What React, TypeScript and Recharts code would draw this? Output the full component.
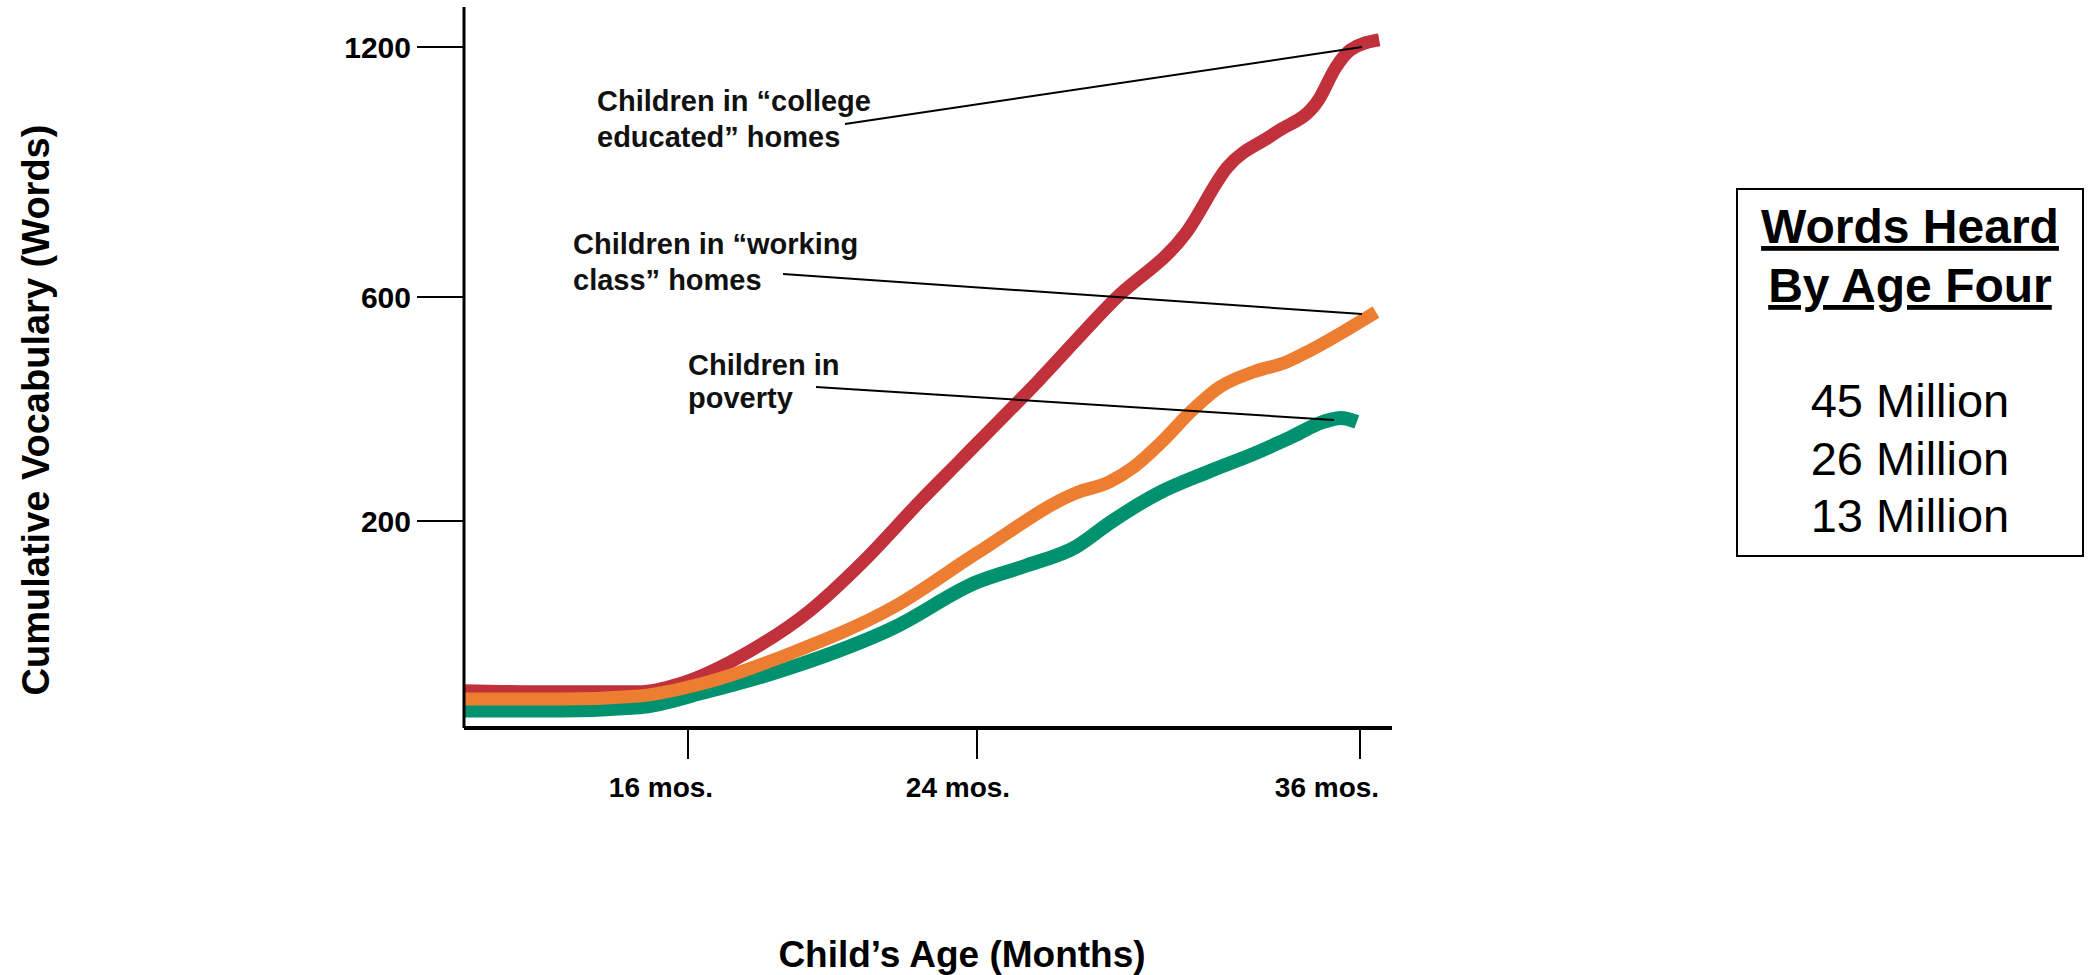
import { LineChart, Line, XAxis, YAxis } from "recharts";

const FONT = '"Liberation Sans", Arial, Helvetica, sans-serif';

// tick labels printed on the axes
const AGE_TICKS = [16, 24, 36];
const VOCAB_TICKS = [200, 600, 1200];

// Children in "college educated" homes
const COLLEGE_AGE = [10, 11.9, 14.7, 15.8, 17.7, 19.4, 20.8, 22.45, 23.55, 25.95, 28.3, 30.55, 31.85, 33.35, 34.7, 35.25, 35.7, 36.6];
const COLLEGE_WORDS = [36, 35, 35, 43, 74, 114, 159, 237, 309, 452, 595, 754, 912, 994, 1073, 1152, 1193, 1217];

// Children in "working class" homes
const WORKING_AGE = [10, 12.6, 14.7, 16.4, 18.9, 21.7, 24, 27.1, 28.15, 28.9, 29.75, 30.75, 31.6, 32.65, 33.7, 34.45, 35.45, 36.5];
const WORKING_WORDS = [28, 28, 31, 43, 73, 117, 169, 250, 270, 296, 339, 398, 439, 466, 484, 505, 537, 573];

// Children in poverty
const POVERTY_AGE = [10, 12.6, 14.7, 16.4, 18.9, 21.7, 24, 25.55, 27.1, 28.15, 29.7, 31.25, 32.8, 33.85, 34.85, 35.4, 35.9];
const POVERTY_WORDS = [17, 17, 20, 34, 59, 97, 141, 157, 175, 198, 250, 288, 323, 350, 377, 384, 377];

const BOX_TITLE = ["Words Heard", "By Age Four"];
const BOX_LINES = ["45 Million", "26 Million", "13 Million"];

// the printed axes are not evenly spaced, so values go through the breakpoints they show
const AGE_STOPS = [10, 16, 24, 36, 37];
const AGE_POS = [0, 224, 513, 896, 928];
const VOCAB_STOPS = [0, 200, 600, 1200];
const VOCAB_POS = [0, 207, 431, 681];

// month labels sit a little left of their tick marks
const AGE_LABEL_SHIFT = [-27, -19, -33];

function piecewise(v: number, from: number[], to: number[]) {
  let i = 0;
  while (i < from.length - 2 && v > from[i + 1]) i++;
  const t = (v - from[i]) / (from[i + 1] - from[i]);
  return to[i] + t * (to[i + 1] - to[i]);
}
const ageToX = (m: number) => piecewise(m, AGE_STOPS, AGE_POS);
const vocabToY = (w: number) => piecewise(w, VOCAB_STOPS, VOCAB_POS);

const toSeries = (ages: number[], words: number[]) =>
  ages.map((a, i) => ({ x: ageToX(a), y: vocabToY(words[i]) }));

const collegeData = toSeries(COLLEGE_AGE, COLLEGE_WORDS);
const workingData = toSeries(WORKING_AGE, WORKING_WORDS);
const povertyData = toSeries(POVERTY_AGE, POVERTY_WORDS);

const AgeTick = (props: any) => {
  const { x, y, index } = props;
  return (
    <text
      x={x + AGE_LABEL_SHIFT[index]}
      y={y}
      dy="0.72em"
      textAnchor="middle"
      fontFamily={FONT}
      fontSize={28}
      fontWeight={700}
      fill="#000"
    >
      {`${AGE_TICKS[index]} mos.`}
    </text>
  );
};

export default function App() {
  const ann = { fontFamily: FONT, fontSize: 29, fontWeight: 700, fill: "#111" };
  return (
    <div style={{ position: "absolute", left: 0, top: 0, width: 2095, height: 975, background: "#fff" }}>
      <LineChart
        width={2095}
        height={975}
        margin={{ top: 7, right: 703, bottom: 187, left: 344 }}
      >
        <XAxis
          type="number"
          dataKey="x"
          domain={[0, 928]}
          ticks={AGE_TICKS.map(ageToX)}
          interval={0}
          height={60}
          tickSize={31}
          tickMargin={18}
          axisLine={{ stroke: "#000", strokeWidth: 4 }}
          tickLine={{ stroke: "#000", strokeWidth: 2 }}
          tick={<AgeTick />}
        />
        <YAxis
          type="number"
          dataKey="y"
          domain={[0, 721]}
          ticks={VOCAB_TICKS.map(vocabToY)}
          interval={0}
          width={120}
          tickSize={47}
          tickMargin={6}
          axisLine={{ stroke: "#000", strokeWidth: 3 }}
          tickLine={{ stroke: "#000", strokeWidth: 2 }}
          tick={{ fill: "#000", fontSize: 30, fontWeight: 700, fontFamily: FONT }}
          tickFormatter={(_v: number, i: number) => String(VOCAB_TICKS[i])}
        />
        <Line data={collegeData} dataKey="y" type="monotone" stroke="#C0313B" strokeWidth={13} dot={false} isAnimationActive={false} />
        <Line data={povertyData} dataKey="y" type="monotone" stroke="#00926E" strokeWidth={14} dot={false} isAnimationActive={false} />
        <Line data={workingData} dataKey="y" type="monotone" stroke="#ED7D31" strokeWidth={13} dot={false} isAnimationActive={false} />
      </LineChart>

      <svg
        width={2095}
        height={975}
        style={{ position: "absolute", left: 0, top: 0, pointerEvents: "none" }}
      >
        {/* axis titles */}
        <text
          x={36}
          y={410}
          transform="rotate(-90 36 410)"
          textAnchor="middle"
          dominantBaseline="central"
          fontFamily={FONT}
          fontSize={38}
          fontWeight={700}
        >
          Cumulative Vocabulary (Words)
        </text>
        <text x={962} y={967} textAnchor="middle" fontFamily={FONT} fontSize={37} fontWeight={700}>
          Child’s Age (Months)
        </text>

        {/* leader lines and labels */}
        <line x1={845} y1={124} x2={1362} y2={47} stroke="#000" strokeWidth={2} />
        <line x1={783} y1={274} x2={1362} y2={314} stroke="#000" strokeWidth={2} />
        <line x1={816} y1={387} x2={1334} y2={420} stroke="#000" strokeWidth={2} />
        <text x={597} y={111} {...ann}>Children in “college</text>
        <text x={597} y={147} {...ann}>educated” homes</text>
        <text x={573} y={254} {...ann}>Children in “working</text>
        <text x={573} y={290} {...ann}>class” homes</text>
        <text x={688} y={375} {...ann}>Children in</text>
        <text x={688} y={408} {...ann}>poverty</text>

        {/* words heard box */}
        <rect x={1737} y={189} width={346} height={367} fill="none" stroke="#000" strokeWidth={2} />
        {BOX_TITLE.map((t, i) => (
          <text
            key={t}
            x={1910}
            y={243 + i * 59}
            textAnchor="middle"
            fontFamily={FONT}
            fontSize={48}
            fontWeight={700}
            style={{ textDecoration: "underline" }}
          >
            {t}
          </text>
        ))}
        {BOX_LINES.map((t, i) => (
          <text key={t} x={1910} y={417 + i * 57.5} textAnchor="middle" fontFamily={FONT} fontSize={47}>
            {t}
          </text>
        ))}
      </svg>
    </div>
  );
}
